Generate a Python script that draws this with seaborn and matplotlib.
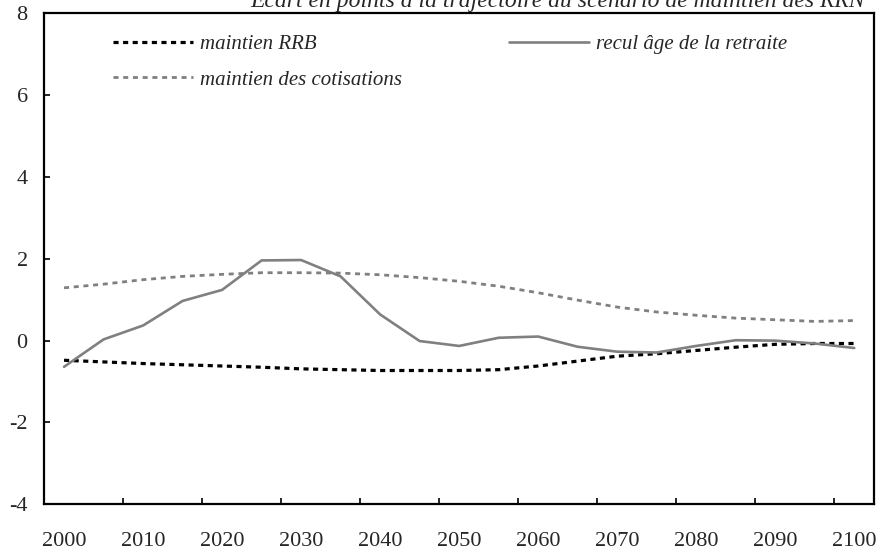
import matplotlib
matplotlib.use("Agg")
import matplotlib.pyplot as plt
import seaborn as sns
import numpy as np
import pandas as pd
from matplotlib.ticker import FixedLocator

# Years (every 5 years)
years = list(range(2000, 2101, 5))

# Deviation in points from the reference trajectory
maintien_rrb = [-0.48, -0.52, -0.56, -0.59, -0.62, -0.65, -0.69, -0.71, -0.73, -0.73,
                -0.73, -0.71, -0.62, -0.50, -0.38, -0.32, -0.24, -0.16, -0.09, -0.07, -0.07]
recul_age = [-0.64, 0.03, 0.37, 0.97, 1.24, 1.96, 1.97, 1.57, 0.64, -0.01,
             -0.13, 0.07, 0.10, -0.15, -0.27, -0.29, -0.13, 0.01, 0.00, -0.07, -0.18]
maintien_cotisations = [1.29, 1.38, 1.49, 1.57, 1.62, 1.66, 1.66, 1.65, 1.61, 1.54,
                        1.45, 1.33, 1.17, 0.99, 0.82, 0.70, 0.62, 0.55, 0.51, 0.47, 0.49]

series_labels = ["maintien RRB", "maintien des cotisations", "recul âge de la retraite"]
x_tick_labels = [str(y) for y in range(2000, 2101, 10)]
y_ticks = [-4, -2, 0, 2, 4, 6, 8]
title = "Ecart en points à la trajectoire du scénario de maintien des RRN"

sns.set_style("white")
plt.rcParams["font.family"] = ["Liberation Serif", "DejaVu Serif"]

W, H = 882, 552
fig = plt.figure(figsize=(W / 100, H / 100), dpi=100)
ax = fig.add_axes([44.3 / W, 1 - 504.3 / H, (874 - 44.3) / W, (504.3 - 13.3) / H])

df = pd.DataFrame({"annee": years, "rrb": maintien_rrb,
                   "recul": recul_age, "cotis": maintien_cotisations})

sns.lineplot(data=df, x="annee", y="rrb", ax=ax, color="black", lw=2.3,
             linestyle=(0, (1.6, 1.4)), label=series_labels[0])
sns.lineplot(data=df, x="annee", y="cotis", ax=ax, color="#808080", lw=2.0,
             linestyle=(0, (1.8, 1.7)), label=series_labels[1])
sns.lineplot(data=df, x="annee", y="recul", ax=ax, color="#808080", lw=1.9,
             linestyle="-", label=series_labels[2])

ax.set_xlim(1997.5, 2102.5)
ax.set_ylim(-4, 8)
ax.set_xlabel("")
ax.set_ylabel("")

ax.set_xticks(list(range(2000, 2101, 10)))
ax.set_xticklabels(x_tick_labels)
ax.xaxis.set_minor_locator(FixedLocator([2007.5 + 10 * k for k in range(10)]))
ax.tick_params(axis="x", which="major", length=0, pad=20, labelsize=16)
ax.tick_params(axis="x", which="minor", direction="in", length=4.5, width=1.2,
               color="black", bottom=True)
ax.set_yticks(y_ticks)
ax.set_yticklabels([str(v) for v in y_ticks])
ax.tick_params(axis="y", which="major", direction="in", length=4.5, width=1.2,
               color="black", pad=12, labelsize=16, left=True)

for side in ["left", "right", "top", "bottom"]:
    ax.spines[side].set_visible(True)
    ax.spines[side].set_color("black")
    ax.spines[side].set_linewidth(1.6)

leg = ax.legend(ncol=2, frameon=False, loc="upper left",
                bbox_to_anchor=(113 / W, 1 - 34.5 / H), bbox_transform=fig.transFigure,
                borderaxespad=0, borderpad=0, handlelength=3.85, handletextpad=0.34,
                columnspacing=5.1, labelspacing=0.77,
                prop={"style": "italic", "size": 15})

fig.text(250 / W, 1 - 6.7 / H, title, ha="left", va="baseline",
         fontsize=17, style="italic")

fig.savefig("out.png", dpi=100)
